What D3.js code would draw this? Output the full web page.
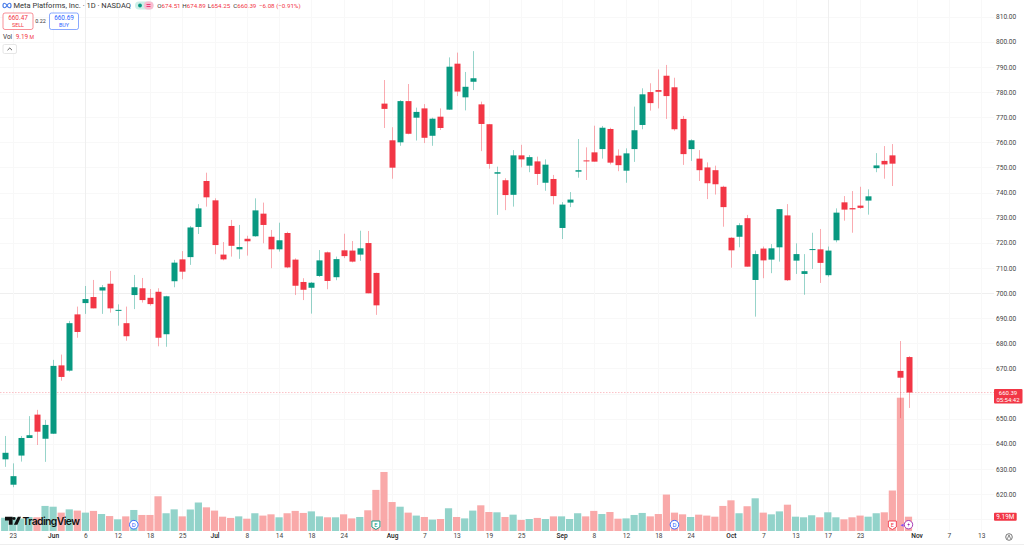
<!DOCTYPE html>
<html><head><meta charset="utf-8">
<script src="https://cdn.jsdelivr.net/npm/d3@7/dist/d3.min.js"></script>
<style>html,body{margin:0;padding:0;background:#fff;overflow:hidden}svg{display:block}text{font-family:Roboto,"Liberation Sans",sans-serif}</style>
</head><body><svg id="c" width="1024" height="546"></svg>
<script>
const opens=[633.8,623.7,635.3,642.3,651.6,642,644,671.2,669.1,691.5,
696,698.4,701,703.7,692.9,688,699.2,701.9,698.1,700.5,
683.6,704.7,713.4,714.3,726.3,744.6,736.9,715.3,726.7,717.4,
721.6,722.6,731.6,722.4,717.4,723.9,713.3,704.4,702.1,706.8,
716.2,706.3,717,716.9,715.3,719.9,708,775.4,760.8,760,
776.4,769.8,773.5,762.6,770.2,773,791.3,777.9,784.1,775.1,
767.2,747.5,744.9,739.1,754.8,750.7,752.4,743.9,745.4,725.9,
736,748.3,752.8,756,757.3,765.3,754.7,748.7,757.3,766.9,
780,780.8,786.5,781.9,769.3,757.3,753.5,750,748.9,742.3,
722,722.4,729.8,705.2,717.7,713.3,718.2,730.9,712.9,707.6,
717.1,717.4,707.1,721,736.1,733.8,734.8,736.8,749.7,752.6,
754.8,669,674.51];
const closes=[636.4,627.1,642.3,643.4,644.8,647.5,671,666.6,688,684.5,
697.6,693.9,702.3,693.9,693.3,682.8,702.3,697.2,695.6,682.2,
698.7,712.1,708.5,726.1,733.7,738.1,719.1,713.4,718.8,718.3,
720.6,732.9,727.1,717.4,721,710.2,702.9,701.3,704.1,713,
704.8,713.5,714.7,712.5,717.8,699.9,695.1,773.3,749.9,776.4,
763.4,772.1,761.8,769.4,765.7,790.1,780.2,782.1,785.5,767.3,
751.4,748.1,739,754.8,753.2,754.1,747.4,751.1,738.6,735.2,
737.2,748.9,752.4,752.3,765.8,751.9,750.9,755.6,764.8,779.1,
775.6,780.1,778.4,765.2,755.3,760.8,748.9,743.7,743.3,734.2,
717,727,710.5,715.5,713,717.8,733.4,705.1,715.5,708.7,
717.5,712,716.9,732,733.2,733.3,733.9,738.5,750.8,751.2,
751.5,666.3,660.39];
const highs=[643.1,632.2,643.1,651,653.5,649.5,673.4,675.5,688.9,694.6,
702.8,705.2,703.2,708.8,695.5,694.6,707.2,706,701.6,701.9,
698.9,713.2,716.7,726.7,735.4,747.9,737.7,720.3,729.1,727.1,
722.8,737.7,736,725.1,728,724.4,713.8,705.9,704.4,717.1,
716.5,714.5,723.6,720.7,724.8,724.7,708.1,784.8,766,776.8,
783.2,773.8,775.2,769.8,773.5,793.8,795.7,788,796.3,776.2,
767.3,750.3,745.7,756.9,759,754.9,754.3,753.2,747,736.2,
740.2,761.3,758,766.6,766.5,765.8,757.2,757.6,774.2,781.5,
783.5,789,790.8,785.7,770.5,761.2,756.9,752,750.7,742.7,
722.2,727.8,731.1,716.9,718.5,719.5,733.4,735.4,719.8,715.5,
724,725.5,718.5,733.7,738.6,740.6,742.3,741.3,755.7,758.5,
759.3,680.9,674.89];
const lows=[630.8,622.7,632.9,642.3,639.5,632.8,643.9,665.1,668.7,682.2,
691.7,693.9,691.7,692.2,687,681,693.6,696.2,695,678.8,
678.6,702.3,705.5,711.2,723.5,734.4,715.5,713,714.5,713.6,
714.9,722.4,719.8,709.9,716.5,709.9,699.2,697.2,691.8,706.4,
701.5,705.1,713.9,712.2,712.8,699.9,691.3,765.7,745.5,758.6,
763.2,760.7,759.7,758.6,764.9,772.9,778.4,772.7,780.8,756.5,
749.5,731.1,733,734.4,750,748.1,743,740.7,735.3,721.5,
734.2,745.9,745,752.3,753.5,751.2,748.5,743.9,752.2,765.2,
772.6,773.5,769.3,764.6,751,752.6,744.6,737.4,739.2,726.4,
710.1,718.2,710.5,690.6,705.9,707.9,712.5,704.8,707.6,699.3,
709.6,704,706.5,720.2,728.8,724,733.5,731.2,748.1,745.5,
742.6,650.2,654.25];
const volumes=[8.5,9,8,9,8.8,16.1,15.6,11.8,13.9,13.1,
11.8,12.9,10.9,9.6,7.5,9.4,13.5,10.3,10.3,22.3,
11.4,13.9,9.4,13.8,18.3,15.2,13.1,9.2,8.4,9.4,
7.9,11.4,9.9,10.7,8.8,11.4,12.9,11.6,12.6,9.4,
8.8,8.8,10.7,8.1,9,13.3,26.4,37.9,18.6,15.6,
11.8,9.9,9,7.3,7.7,14.6,9,8.1,13.1,16.5,
12.2,12,9,10.5,7.1,7.7,8.4,7.7,9.4,9.4,
7.7,11.4,9.4,12.9,10.9,12.2,7.9,8.1,10.3,11.6,
9.4,10.9,23.4,11.8,10.7,9,10.5,9.9,9.2,16.1,
19.7,11.4,15.9,21,11.8,10.7,12.6,16.9,9.2,8.8,
10.1,8.8,12,8.8,7.5,8.8,9.9,9.2,11.4,12,
26,85.6,9.19];
const dateTickIndex=[1,6,10,14,18,22,26,30,34,38,42,48,52,56,60,64,69,73,77,81,85,90,94,98,102,106,113,117,121];
const dateTickLabels=["23","Jun","6","12","18","25","Jul","8","14","18","24","Aug","7","13","19","25","Sep","8","12","18","24","Oct","7","13","17","23","Nov","7","13"];
const monthLabels=["Jun","Jul","Aug","Sep","Oct","Nov"];
const priceTicks=[810,800,790,780,770,760,750,740,730,720,710,700,690,680,670,660,650,640,630,620];
const hiddenPriceTicks=[660];
const dividendBars=[16,83];
const earningsBars=[46,110];
const title="Meta Platforms, Inc. · 1D · NASDAQ";
const ohlcLabels=["O","H","L","C"];
const ohlcValues=["674.51","674.89","654.25","660.39"];

const GREEN="#089981",RED="#F23645",VG="#92d3ca",VR="#f9a9a9";
const svg=d3.select("#c");
const x=d3.scaleLinear().domain([0,112]).range([4.7,908.5]);
const y=d3.scaleLinear().domain([620,810]).range([494,16.7]);
const v=d3.scaleLinear().domain([0,85.6]).range([531,397.7]);
const up=i=>closes[i]>=opens[i];

// grid
const grid=svg.append("g");
grid.selectAll(".h").data(priceTicks.concat([610])).join("line")
 .attr("x1",0).attr("x2",994).attr("y1",d=>Math.round(y(d))+.5).attr("y2",d=>Math.round(y(d))+.5)
 .attr("stroke",d=>d===700?"#efefef":"#f8f8f8");
grid.selectAll(".v").data(dateTickIndex).join("line")
 .attr("x1",d=>Math.round(x(d))+.5).attr("x2",d=>Math.round(x(d))+.5).attr("y1",0).attr("y2",531)
 .attr("stroke",d=>(d===10||d===102)?"#efefef":"#f8f8f8");

// volume
svg.append("g").selectAll("rect").data(volumes).join("rect")
 .attr("x",(d,i)=>x(i)-3.6).attr("width",7.2)
 .attr("y",d=>v(d)).attr("height",d=>v(0)-v(d))
 .attr("fill",(d,i)=>up(i)?VG:VR);

// price line
svg.append("line").attr("x1",0).attr("x2",994).attr("y1",y(660.39)).attr("y2",y(660.39))
 .attr("stroke",RED).attr("stroke-opacity",.3).attr("stroke-dasharray","1.5 1.5");

// candles
const cg=svg.append("g");
cg.selectAll("line").data(opens).join("line")
 .attr("x1",(d,i)=>Math.round(x(i))+.5).attr("x2",(d,i)=>Math.round(x(i))+.5)
 .attr("y1",(d,i)=>y(highs[i])).attr("y2",(d,i)=>y(lows[i]))
 .attr("stroke",(d,i)=>up(i)?GREEN:RED).attr("stroke-opacity",.42).attr("stroke-width",1);
cg.selectAll("rect").data(opens).join("rect")
 .attr("x",(d,i)=>Math.round(x(i))-2.5).attr("width",6)
 .attr("y",(d,i)=>y(Math.max(opens[i],closes[i])))
 .attr("height",(d,i)=>Math.max(1,Math.abs(y(opens[i])-y(closes[i]))))
 .attr("fill",(d,i)=>up(i)?GREEN:RED);

// axes
const ya=d3.axisRight(y).tickValues(priceTicks.filter(t=>!hiddenPriceTicks.includes(t))).tickSize(0).tickPadding(0).tickFormat(d3.format(".2f"));
const yg=svg.append("g").attr("transform","translate(996,0)").call(ya);
yg.select(".domain").remove();
yg.selectAll("text").attr("font-size",6.6).attr("fill","#444");
const xa=d3.axisBottom(x).tickValues(dateTickIndex).tickSize(0).tickPadding(0)
 .tickFormat(d=>dateTickLabels[dateTickIndex.indexOf(d)]);
const xg=svg.append("g").attr("transform","translate(0,533)").call(xa);
xg.select(".domain").remove();
xg.selectAll("text").attr("font-size",6.6)
 .attr("fill",d=>monthLabels.includes(dateTickLabels[dateTickIndex.indexOf(d)])?"#222":"#444")
 .attr("font-weight",d=>monthLabels.includes(dateTickLabels[dateTickIndex.indexOf(d)])?500:400);
svg.append("line").attr("x1",0).attr("x2",1024).attr("y1",544.5).attr("y2",544.5).attr("stroke","#eeeeee");

// price labels
svg.append("rect").attr("x",994).attr("y",389).attr("width",28.5).attr("height",14.5).attr("rx",1).attr("fill",RED);
svg.append("text").attr("x",1008).attr("y",394.9).attr("text-anchor","middle").attr("font-size",6).attr("fill","#fff").text("660.39");
svg.append("text").attr("x",1008).attr("y",402).attr("text-anchor","middle").attr("font-size",6).attr("fill","#fff").text("05:54:42");
svg.append("rect").attr("x",994).attr("y",512.7).attr("width",22.7).attr("height",8).attr("rx",1).attr("fill",RED);
svg.append("text").attr("x",1005.3).attr("y",519).attr("text-anchor","middle").attr("font-size",6.4).attr("fill","#fff").text("9.19M");

// settings icon
svg.append("circle").attr("cx",1009).attr("cy",537).attr("r",3.3).attr("fill","none").attr("stroke","#555").attr("stroke-width",.8);
svg.append("path").attr("d","M1007.4 538.8L1009 535L1010.6 538.8").attr("fill","none").attr("stroke","#555").attr("stroke-width",.7);

// header
svg.append("path").attr("d","M3 5.5c0-3 2.4-3 4 0s4 3 4 0s-2.4-3-4 0s-4 3-4 0z").attr("fill","none").attr("stroke","#4a7de8").attr("stroke-width",1.2);
svg.append("text").attr("x",13.5).attr("y",8).attr("font-size",7.5).attr("fill","#333").text(title);
svg.append("rect").attr("x",135).attr("y",1.5).attr("width",18.5).attr("height",8).attr("rx",4).attr("fill","#cdeee8");
svg.append("rect").attr("x",144).attr("y",1.5).attr("width",9.5).attr("height",8).attr("rx",4).attr("fill","#f9bcd0");
svg.append("circle").attr("cx",140).attr("cy",5.5).attr("r",1.9).attr("fill",GREEN);
svg.append("path").attr("d","M146.5 4.5h4M146.5 6.5h4").attr("stroke","#e91e63").attr("stroke-width",.8);
const ohlcX=[157.3,182.3,207.8,233.3];
ohlcValues.forEach((val,i)=>{
  const t=svg.append("text").attr("x",ohlcX[i]).attr("y",8).attr("font-size",6.2);
  t.append("tspan").attr("fill","#333").text(ohlcLabels[i]);
  t.append("tspan").attr("fill",RED).text(val);
});
svg.append("text").attr("x",259).attr("y",8).attr("font-size",6.2).attr("fill",RED).text("−6.08 (−0.91%)");

function box(x0,w,col,a,b){
  svg.append("rect").attr("x",x0+.5).attr("y",13).attr("width",w).attr("height",16.5).attr("rx",2).attr("fill","#fff").attr("stroke",col).attr("stroke-opacity",.55);
  svg.append("text").attr("x",x0+w/2+.5).attr("y",20.3).attr("text-anchor","middle").attr("font-size",6.4).attr("fill",col).text(a);
  svg.append("text").attr("x",x0+w/2+.5).attr("y",27).attr("text-anchor","middle").attr("font-size",5.4).attr("fill",col).text(b);
}
box(2.5,30,RED,"660.47","SELL");
box(49,29,"#2962FF","660.69","BUY");
svg.append("text").attr("x",40.5).attr("y",23).attr("text-anchor","middle").attr("font-size",5.4).attr("fill","#333").text("0.22");
const vt=svg.append("text").attr("x",3).attr("y",39.3).attr("font-size",6.4);
vt.append("tspan").attr("fill","#333").text("Vol");
vt.append("tspan").attr("dx",3.5).attr("fill",RED).text("9.19");
vt.append("tspan").attr("fill",RED).attr("font-size",5.2).text(" M");
svg.append("rect").attr("x",3).attr("y",44.5).attr("width",13.5).attr("height",9).attr("rx",1.5).attr("fill","#fff").attr("stroke","#e6e6e6");
svg.append("path").attr("d","M7.5 50.2L9.8 48L12 50.2").attr("fill","none").attr("stroke","#333").attr("stroke-width",.8);

// TradingView logo
svg.append("path").attr("d","M5 516.8h7.6v8h-3.8v-4.2H5zM17.8 516.8h3.2L17.4 524.8h-3.5zM14 517a1.5 1.5 0 1 0 .01 0z").attr("fill","#111");
svg.append("text").attr("x",22.5).attr("y",524.6).attr("font-size",10.4).attr("font-weight",600).attr("fill","#111").style("font-family","Inter,Roboto,sans-serif").attr("textLength",57.5).text("TradingView");

// event markers
dividendBars.forEach(i=>{
  const g=svg.append("g").attr("transform",`translate(${x(i)},524.7)`);
  g.append("circle").attr("r",4.3).attr("fill","#fff").attr("stroke","#2962FF").attr("stroke-width",.9);
  g.append("text").attr("text-anchor","middle").attr("y",2.2).attr("font-size",6).attr("fill","#2962FF").text("D");
});
earningsBars.forEach(i=>{
  const g=svg.append("g").attr("transform",`translate(${x(i)},525)`);
  g.append("path").attr("d","M-4 -4H4V2L0 4.5L-4 2Z").attr("fill","#fff").attr("stroke",i===46?GREEN:RED).attr("stroke-width",.9);
  g.append("text").attr("text-anchor","middle").attr("y",1.6).attr("font-size",5.6).attr("fill",i===46?GREEN:RED).text("E");
});
const s=svg.append("g").attr("transform",`translate(${x(112)},524.7)`);
s.append("circle").attr("r",4.2).attr("fill","#fff").attr("stroke","#9c27b0").attr("stroke-width",.9);
s.append("path").attr("d","M0.8 -2.8L-1.2 0.4H0.2L-0.8 2.8L1.4 -0.6H0z").attr("fill","#9c27b0");
s.append("path").attr("d","M-8 0.5L-5 -1V2Z").attr("fill","#7c4dff");
</script></body></html>
